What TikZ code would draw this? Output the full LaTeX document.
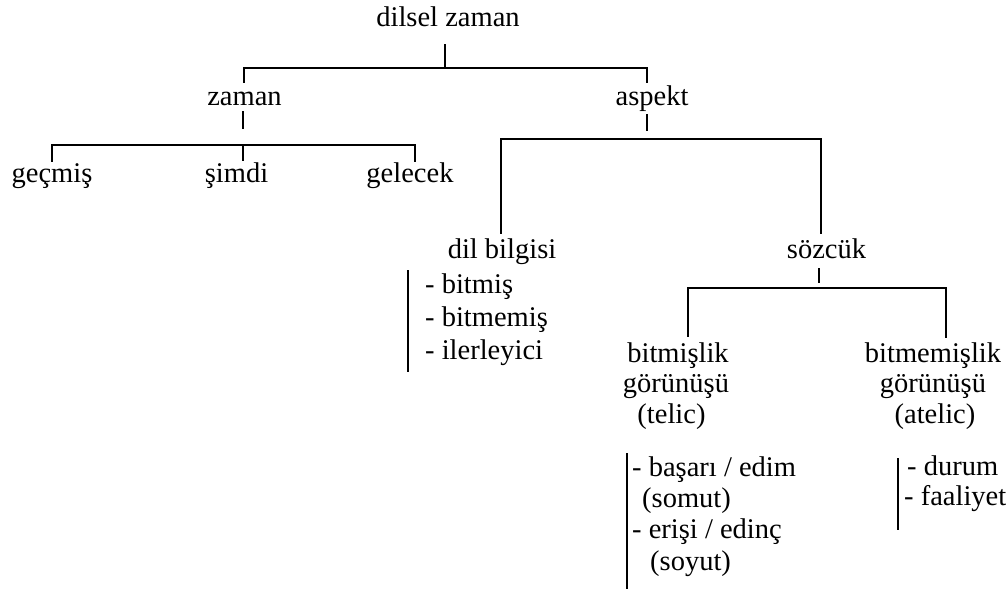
\documentclass[tikz,border=0pt]{standalone}
\usepackage{fontspec}
\setmainfont{Liberation Serif}
\begin{document}
\begin{tikzpicture}[x=1pt,y=-1pt,
  lbl/.style={anchor=base,inner sep=0pt,font=\fontsize{28.5}{31.5}\selectfont},
  item/.style={lbl,anchor=base west},
  branch/.style={line width=1.6pt,line cap=rect}]
\useasboundingbox (0,0) rectangle (1008,589);

% ---- labels ----
\node[lbl] (dz) at (448,27) {dilsel zaman};
\node[lbl] (zm) at (244.5,105) {zaman};
\node[lbl] (asp) at (652,105) {aspekt};
\node[lbl] (gec) at (52,182) {geçmiş};
\node[lbl] (sim) at (236.5,182) {şimdi};
\node[lbl] (gel) at (410,182) {gelecek};
\node[lbl] (dil) at (502,258) {dil bilgisi};
\node[lbl] (soz) at (826.5,258) {sözcük};
\node[lbl] (tel1) at (678,362) {bitmişlik};
\node[lbl] (tel2) at (676,392) {görünüşü};
\node[lbl] (tel3) at (671.5,423) {(telic)};
\node[lbl] (atl1) at (933,362) {bitmemişlik};
\node[lbl] (atl2) at (933,392) {görünüşü};
\node[lbl] (atl3) at (935,423) {(atelic)};

% lists
\node[item] (dl1) at (425,293) {- bitmiş};
\node[item] (dl2) at (425,326) {- bitmemiş};
\node[item] (dl3) at (425,359) {- ilerleyici};
\node[item] (tl1) at (632,476) {- başarı / edim};
\node[item] (tl2) at (642,507) {(somut)};
\node[item] (tl3) at (632,538) {- erişi / edinç};
\node[item] (tl4) at (650,570) {(soyut)};
\node[item] (al1) at (907,475) {- durum};
\node[item] (al2) at (904,505) {- faaliyet};

% ---- junction points ----
\coordinate (dzA) at (445,45);  \coordinate (dzB) at (445,68);
\coordinate (zmT) at (244,82);  \coordinate (zmC) at (244,68);
\coordinate (asT) at (647,82);  \coordinate (asC) at (647,68);
\coordinate (zmA) at (243,112); \coordinate (zmB) at (243,128);
\coordinate (gecT) at (52,161); \coordinate (gecC) at (52,145);
\coordinate (gelT) at (415,161); \coordinate (gelC) at (415,145);
\coordinate (simT) at (243,160); \coordinate (simC) at (243,145);
\coordinate (asA) at (647,115); \coordinate (asB) at (647,130);
\coordinate (dilT) at (501,233); \coordinate (dilC) at (501,139);
\coordinate (sozT) at (821,233); \coordinate (sozC) at (821,139);
\coordinate (szA) at (819,269); \coordinate (szB) at (819,282);
\coordinate (telT) at (688,336); \coordinate (telC) at (688,288);
\coordinate (atlT) at (946,337); \coordinate (atlC) at (946,288);

% ---- tree branches ----
\draw[branch] (dzA) -- (dzB);
\draw[branch] (zmT) -- (zmC) -- (asC) -- (asT);
\draw[branch] (zmA) -- (zmB);
\draw[branch] (gecT) -- (gecC) -- (gelC) -- (gelT);
\draw[branch] (simC) -- (simT);
\draw[branch] (asA) -- (asB);
\draw[branch] (dilT) -- (dilC) -- (sozC) -- (sozT);
\draw[branch] (szA) -- (szB);
\draw[branch] (telT) -- (telC) -- (atlC) -- (atlT);

% ---- list bars ----
\coordinate (dlA) at (408,270); \coordinate (dlB) at (408,372);
\coordinate (tlA) at (627,453); \coordinate (tlB) at (627,589);
\coordinate (alA) at (898,458); \coordinate (alB) at (898,530);
\draw[branch,line cap=butt] (dlA) -- (dlB);
\draw[branch,line cap=butt] (tlA) -- (tlB);
\draw[branch,line cap=butt] (alA) -- (alB);
\end{tikzpicture}
\end{document}
